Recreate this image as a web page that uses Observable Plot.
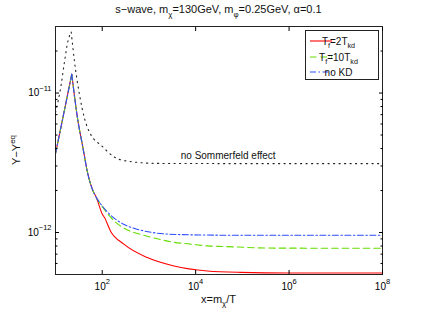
<!DOCTYPE html>
<html>
<head>
<meta charset="utf-8">
<script src="https://cdn.jsdelivr.net/npm/d3@7"></script>
<script src="https://cdn.jsdelivr.net/npm/@observablehq/plot@0.6"></script>
<style>
  html, body { margin: 0; padding: 0; background: #fff; }
  svg { display: block; }
</style>
</head>
<body>
<div id="chart"></div>
<script>
// ---- data ----
// shared part of the three coloured curves (before they separate); peak at index 2
const xCommon = [10, 15, 22.3, 30.1, 38.5, 49.2, 63, 74.5];
const yCommon = [3.68e-12, 7.11e-12, 1.365e-11, 6.37e-12, 4.09e-12, 2.63e-12, 2.0e-12, 1.79e-12];

// T_f = 2 T_kd (red)
const xRed = [100, 112, 151, 290, 923, 3430, 17800, 91000, 1e6, 1e8];
const yRed = [1.36e-12, 1.28e-12, 1.023e-12, 8.26e-13, 6.61e-13, 5.75e-13, 5.30e-13, 5.18e-13, 5.13e-13, 5.13e-13];

// T_f = 10 T_kd (green)
const xGreen = [100, 151, 251, 476, 661, 1510, 3430, 7760, 17800, 39800, 479000, 1e8];
const yGreen = [1.54e-12, 1.288e-12, 1.109e-12, 1.0e-12, 9.7e-13, 9.02e-13, 8.51e-13, 8.26e-13, 8.02e-13, 7.94e-13, 7.73e-13, 7.71e-13];

// no KD (blue)
const xBlue = [100, 151, 251, 476, 661, 1510, 3980, 17800, 1e5, 1e8];
const yBlue = [1.55e-12, 1.334e-12, 1.175e-12, 1.072e-12, 1.04e-12, 9.89e-13, 9.68e-13, 9.59e-13, 9.55e-13, 9.55e-13];

// no Sommerfeld effect (black dotted); peak at index 4
const xNoSF = [10, 13.2, 15.6, 18.4, 21.7, 25.5, 32.7, 41.8, 49.2, 58.2, 95.3, 184, 290, 1510, 1e5, 1e8];
const yNoSF = [7.26e-12, 1.143e-11, 1.683e-11, 2.344e-11, 2.735e-11, 1.683e-11, 9.68e-12, 6.58e-12, 5.57e-12, 4.97e-12, 4.21e-12, 3.47e-12, 3.28e-12, 3.13e-12, 3.12e-12, 3.12e-12];

// annotation
const annText = ["no Sommerfeld effect"];
const annX = [4.97e4];
const annY = [3.57e-12];

// ticks
const xTicks = [1e2, 1e4, 1e6, 1e8];
const yTicks = [1e-12, 1e-11];
const yMinor = [6e-13, 7e-13, 8e-13, 9e-13, 2e-12, 3e-12, 4e-12, 5e-12, 6e-12, 7e-12, 8e-12, 9e-12, 2e-11];

// ---- build tables (split each curve at its peak so the cusp stays sharp) ----
const zip = (xs, ys) => xs.map((x, i) => ({x, y: ys[i]}));
function splitAtPeak(rows) {
  let p = 0;
  rows.forEach((d, i) => { if (d.y > rows[p].y) p = i; });
  const a = rows.slice(0, p + 1).map(d => ({...d, seg: "rise"}));
  const b = rows.slice(p).map(d => ({...d, seg: "fall"}));
  return a.concat(b);
}
const common = zip(xCommon, yCommon);
const red = splitAtPeak(common.concat(zip(xRed, yRed)));
const green = splitAtPeak(common.concat(zip(xGreen, yGreen)));
const blue = splitAtPeak(common.concat(zip(xBlue, yBlue)));
const noSF = splitAtPeak(zip(xNoSF, yNoSF));
const ann = annText.map((t, i) => ({text: t, x: annX[i], y: annY[i]}));

const FONT = "'Liberation Sans', Arial, Helvetica, sans-serif";
const expFmt = d => "10^" + String(Math.round(Math.log10(d))).replace("-", "\u2212");
const blank = () => "";
const lineOpts = {x: "x", y: "y", z: "seg", curve: "monotone-x", strokeWidth: 1.1};

const svg = Plot.plot({
  width: 422,
  height: 313,
  marginLeft: 55,
  marginRight: 40,
  marginTop: 26,
  marginBottom: 39,
  style: {fontFamily: FONT, fontSize: "10px", background: "#fff", color: "#000", overflow: "visible"},
  x: {type: "log", domain: [1e1, 1e8]},
  y: {type: "log", domain: [5e-13, 3e-11]},
  marks: [
    Plot.line(red, {...lineOpts, stroke: "#ff0000"}),
    Plot.line(green, {...lineOpts, stroke: "#66dd00", strokeDasharray: "6.5,4"}),
    Plot.line(blue, {...lineOpts, stroke: "#2f4dff", strokeDasharray: "6,2.5,1.5,2.5"}),
    Plot.line(noSF, {...lineOpts, stroke: "#222", strokeDasharray: "1.2,4.3"}),
    Plot.text(ann, {x: "x", y: "y", text: "text", fontSize: 10, fill: "#111"}),
    Plot.frame({stroke: "#222"}),
    Plot.axisX({anchor: "bottom", ticks: xTicks, tickSize: -4, tickPadding: 12, tickFormat: expFmt, label: null, fontSize: 10}),
    Plot.axisX({anchor: "top", ticks: xTicks, tickSize: -4, tickFormat: blank, label: null}),
    Plot.axisY({anchor: "left", ticks: yTicks, tickSize: -4, tickPadding: 8, tickFormat: expFmt, label: null, fontSize: 10}),
    Plot.axisY({anchor: "right", ticks: yTicks, tickSize: -4, tickFormat: blank, label: null}),
    Plot.axisY({anchor: "left", ticks: yMinor, tickSize: -2.5, tickFormat: blank, label: null}),
    Plot.axisY({anchor: "right", ticks: yMinor, tickSize: -2.5, tickFormat: blank, label: null})
  ]
});

document.getElementById("chart").appendChild(svg);
const root = d3.select(svg);

// superscript exponents on tick labels
root.selectAll('g[aria-label="x-axis tick label"] text, g[aria-label="y-axis tick label"] text').each(function () {
  const t = d3.select(this);
  const s = t.text();
  const i = s.indexOf("^");
  if (i < 0) return;
  t.text(s.slice(0, i));
  t.append("tspan").attr("dy", "-5.5").attr("font-size", "7.5px").text(s.slice(i + 1));
});

// rich text helper: parts = [[string, kind]] with kind null | "sub" | "sup"
function rich(sel, parts, fs) {
  let cur = 0;
  parts.forEach(([s, kind]) => {
    const target = kind === "sub" ? 0.32 * fs : kind === "sup" ? -0.45 * fs : 0;
    const ts = sel.append("tspan").text(s);
    if (target !== cur) ts.attr("dy", (target - cur).toFixed(2));
    if (kind) ts.attr("font-size", (fs * 0.72).toFixed(1) + "px");
    cur = target;
  });
  return sel;
}

const fx0 = 55, fx1 = 382, fy0 = 26, fy1 = 274;
const cx = (fx0 + fx1) / 2, cy = (fy0 + fy1) / 2;

// title
rich(root.append("text").attr("x", cx).attr("y", 13).attr("text-anchor", "middle")
  .attr("font-family", FONT).attr("font-size", "11px").attr("fill", "#111"),
  [["s\u2212wave, m", null], ["\u03c7", "sub"], ["=130GeV, m", null], ["\u03c6", "sub"], ["=0.25GeV, \u03b1=0.1", null]], 11);

// x label
rich(root.append("text").attr("x", cx).attr("y", 302.5).attr("text-anchor", "middle")
  .attr("font-family", FONT).attr("font-size", "11px").attr("fill", "#111"),
  [["x=m", null], ["\u03c7", "sub"], ["/T", null]], 11);

// y label
rich(root.append("text").attr("transform", `translate(20,${cy}) rotate(-90)`).attr("text-anchor", "middle")
  .attr("font-family", FONT).attr("font-size", "11px").attr("fill", "#111"),
  [["Y\u2212Y", null], ["eq", "sup"]], 11);

// legend
const lg = root.append("g").attr("font-family", FONT).attr("font-size", "10px");
lg.append("rect").attr("x", 305.5).attr("y", 30.5).attr("width", 73).attr("height", 49)
  .attr("fill", "#fff").attr("stroke", "#222");
const entries = [
  {y: 41, stroke: "#ff0000", dash: null, parts: [["T", null], ["f", "sub"], ["=2T", null], ["kd", "sub"]]},
  {y: 57, stroke: "#66dd00", dash: "6.5,4", parts: [["T", null], ["f", "sub"], ["=10T", null], ["kd", "sub"]]},
  {y: 72, stroke: "#2f4dff", dash: "6,2.5,1.5,2.5", parts: [["no KD", null]]}
];
entries.forEach(e => {
  const ln = lg.append("line").attr("x1", 310).attr("x2", 332).attr("y1", e.y).attr("y2", e.y)
    .attr("stroke", e.stroke).attr("stroke-width", 1.1);
  if (e.dash) ln.attr("stroke-dasharray", e.dash);
  rich(lg.append("text").attr("x", 338.5).attr("y", e.y + 3.5).attr("fill", "#111"), e.parts, 10);
});
</script>
</body>
</html>
